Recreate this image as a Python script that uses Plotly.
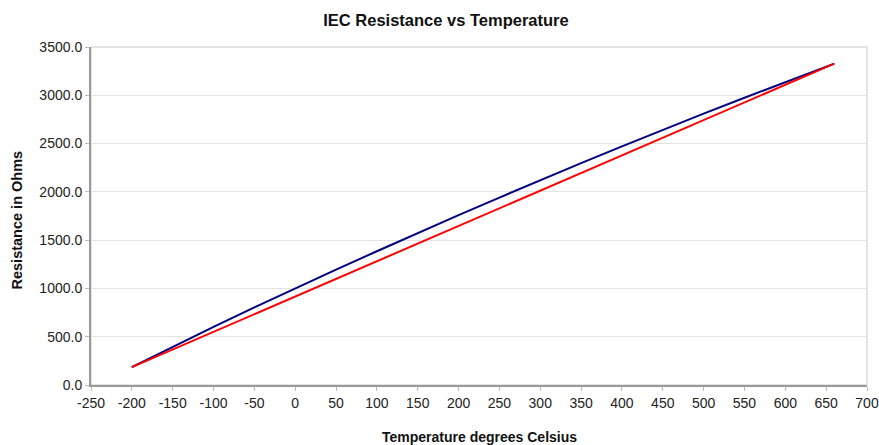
import plotly.graph_objects as go

temps = [-200, -150, -100, -50, 0, 50, 100, 150, 200, 250, 300, 350, 400, 450, 500, 550, 600, 650, 660]
iec_ohms = [185.2, 397.1, 602.6, 803.1, 1000.0, 1194.0, 1385.1, 1573.3, 1758.6, 1941.0,
            2120.5, 2297.2, 2470.9, 2641.8, 2809.8, 2974.9, 3137.1, 3296.5, 3328.0]
linear_temps = [-200, 660]
linear_ohms = [185.2, 3328.0]
x_ticks = [-250, -200, -150, -100, -50, 0, 50, 100, 150, 200, 250, 300, 350, 400, 450, 500, 550, 600, 650, 700]
y_ticks = [0, 500, 1000, 1500, 2000, 2500, 3000, 3500]

fig = go.Figure()
fig.add_trace(go.Scatter(x=temps, y=iec_ohms, mode="lines",
                         line=dict(color="#000080", width=2), name="IEC"))
fig.add_trace(go.Scatter(x=linear_temps, y=linear_ohms, mode="lines",
                         line=dict(color="#FF0000", width=2), name="Linear"))

font = "Liberation Sans, Arial, sans-serif"
L, R, T, B = 91, 12, 47, 60
W, H = 879, 445
pw, ph = W - L - R, H - T - B
fig.update_layout(
    width=W, height=H,
    margin=dict(l=L, r=R, t=T, b=B, autoexpand=False),
    paper_bgcolor="white", plot_bgcolor="white",
    showlegend=False,
    title=dict(text="<b>IEC Resistance vs Temperature</b>", x=446 / W, xanchor="center",
               y=1 - 20 / H, yanchor="middle", font=dict(family=font, size=16.5, color="#111")),
    font=dict(family=font, size=14, color="#222"),
    shapes=[dict(type="rect", xref="paper", yref="paper", x0=0, y0=0, x1=1, y1=1,
                 line=dict(color="#c8c8c8", width=1), layer="below")],
    annotations=[
        dict(text="<b>Temperature degrees Celsius</b>", xref="paper", yref="paper",
             x=(479 - L) / pw, y=-(436.5 - (T + ph)) / ph, xanchor="center", yanchor="middle",
             showarrow=False, font=dict(family=font, size=14, color="#111")),
        dict(text="<b>Resistance in Ohms</b>", xref="paper", yref="paper",
             x=(16.5 - L) / pw, y=(T + ph - 220) / ph, xanchor="center", yanchor="middle",
             textangle=-90, showarrow=False, font=dict(family=font, size=14.5, color="#111")),
    ],
)
fig.update_xaxes(range=[-250, 700], tickvals=x_ticks, ticktext=[str(v) for v in x_ticks],
                 showgrid=False, zeroline=False, automargin=False,
                 showline=True, linecolor="#9a9a9a", linewidth=2, ticks="outside",
                 ticklen=4, tickcolor="#bbbbbb")
fig.update_yaxes(range=[0, 3500], tickvals=y_ticks, ticktext=[f"{v:.1f}" for v in y_ticks],
                 showgrid=True, automargin=False,
                 gridcolor="#e3e3e3", gridwidth=1, zeroline=False,
                 showline=True, linecolor="#9a9a9a", linewidth=2, ticks="outside",
                 ticklen=4, tickcolor="#bbbbbb")

fig.write_html("out.html", config={"displayModeBar": False},
               post_script="document.body.style.margin='0';document.body.style.overflow='hidden';")
